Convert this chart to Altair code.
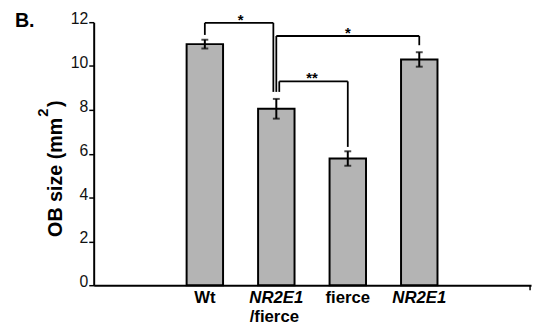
import altair as alt
import pandas as pd

# ---- data ----
categories = ["Wt", "NR2E1/fierce", "fierce", "NR2E1"]
slots = [1, 2, 3, 4]                      # slot 0 and 5 are empty
means = [11.0, 8.05, 5.78, 10.3]
errors = [0.2, 0.45, 0.33, 0.33]

label_line1 = ["Wt", "NR2E1", "fierce", "NR2E1"]
label_italic = [False, True, False, True]
label_line2 = ["", "/fierce", "", ""]

bracket_left = [1, 2, 2]
bracket_right = [2, 4, 3]
bracket_top = [11.97, 11.37, 9.30]
bracket_left_bottom = [11.42, 8.82, 8.82]
bracket_right_bottom = [8.82, 10.95, 6.31]
bracket_text = ["*", "*", "**"]

y_ticks = [0, 2, 4, 6, 8, 10, 12]
y_title_parts = ["OB size (mm", "2", ")"]

# ---- styling ----
W, H = 444, 267
FONT = "Liberation Sans"
left_leg_off = [0, 0, 3]
right_leg_off = [-3, 0, 0]

bars = pd.DataFrame({"cat": categories, "x": slots, "mean": means, "err": errors})
bars["lo"] = bars["mean"] - bars["err"]
bars["hi"] = bars["mean"] + bars["err"]

labels = pd.DataFrame({"x": slots, "l1": label_line1, "it": label_italic, "l2": label_line2})

br = pd.DataFrame({
    "xl": bracket_left, "xr": bracket_right, "top": bracket_top,
    "lb": bracket_left_bottom, "rb": bracket_right_bottom, "txt": bracket_text,
    "lo": left_leg_off, "ro": right_leg_off,
})
br["xm"] = (br["xl"] + br["xr"]) / 2

xscale = alt.Scale(domain=[-0.486, 5.495], nice=False, zero=False)
yscale = alt.Scale(domain=[0, 12], nice=False)

base = alt.Chart(bars)

bar_layer = base.mark_bar(size=37, fill="#b4b4b4", stroke="black", strokeWidth=2).encode(
    x=alt.X("x:Q", scale=xscale,
            axis=alt.Axis(title=None, labels=False, ticks=False, grid=False,
                          domainColor="black", domainWidth=2)),
    y=alt.Y("mean:Q", scale=yscale,
            axis=alt.Axis(values=y_ticks, grid=False, domainColor="black", domainWidth=2,
                          tickColor="black", tickWidth=1.5, tickSize=5,
                          labelFont=FONT, labelFontSize=16, labelColor="#111",
                          labelPadding=1, labelBaseline="alphabetic", labelOffset=1.5,
                          title=None)),
)

err_layer = base.mark_rule(color="black", strokeWidth=2).encode(
    x="x:Q", y="lo:Q", y2="hi:Q")
cap_lo = base.mark_tick(color="black", size=7, thickness=2, orient="horizontal").encode(
    x="x:Q", y="lo:Q")
cap_hi = base.mark_tick(color="black", size=7, thickness=2, orient="horizontal").encode(
    x="x:Q", y="hi:Q")

layers = [bar_layer, err_layer, cap_lo, cap_hi]

# significance brackets
for i in range(len(br)):
    one = alt.Chart(br.iloc[[i]])
    layers.append(one.mark_rule(color="black", strokeWidth=1.8,
                                xOffset=int(br["lo"][i]), x2Offset=int(br["ro"][i])).encode(
        x="xl:Q", x2="xr:Q", y="top:Q"))
    layers.append(one.mark_rule(color="black", strokeWidth=1.8, xOffset=int(br["lo"][i])).encode(
        x="xl:Q", y="lb:Q", y2="top:Q"))
    layers.append(one.mark_rule(color="black", strokeWidth=1.8, xOffset=int(br["ro"][i])).encode(
        x="xr:Q", y="rb:Q", y2="top:Q"))

layers.append(alt.Chart(br).mark_text(font=FONT, fontSize=15, fontWeight="bold",
                                      baseline="alphabetic", dy=2, color="black").encode(
    x="xm:Q", y="top:Q", text="txt:N"))

# x category labels
lab = alt.Chart(labels)
for italic in (True, False):
    layers.append(lab.transform_filter(
        "datum.it" if italic else "!datum.it").mark_text(
        font=FONT, fontSize=17, fontWeight="bold", baseline="alphabetic",
        fontStyle="italic" if italic else "normal", color="black").encode(
        x="x:Q", y=alt.value(H + 18), text="l1:N"))
layers.append(lab.mark_text(font=FONT, fontSize=17, fontWeight="bold", baseline="alphabetic",
                            color="black", dx=-2).encode(
    x="x:Q", y=alt.value(H + 37), text="l2:N"))

# small end tick on x axis
dummy = alt.Chart(bars.iloc[[0]])
layers.append(dummy.mark_rule(color="black", strokeWidth=1.5).encode(
    x=alt.value(W - 1), y=alt.value(H), y2=alt.value(H + 5)))

# y-axis title in pieces (large superscript 2)
layers.append(dummy.mark_text(text=y_title_parts[0], font=FONT, fontSize=20, fontWeight="bold",
                              angle=270, align="left", baseline="alphabetic", color="black").encode(
    x=alt.value(-32), y=alt.value(218)))
layers.append(dummy.mark_text(text=y_title_parts[1], font=FONT, fontSize=15, fontWeight="bold",
                              angle=270, align="left", baseline="alphabetic", color="black").encode(
    x=alt.value(-46), y=alt.value(96)))
layers.append(dummy.mark_text(text=y_title_parts[2], font=FONT, fontSize=20, fontWeight="bold",
                              angle=270, align="left", baseline="alphabetic", color="black").encode(
    x=alt.value(-32), y=alt.value(86)))

# panel letter
layers.append(dummy.mark_text(
    text="B.", font=FONT, fontSize=20, fontWeight="bold", align="left",
    baseline="alphabetic", color="black").encode(
    x=alt.value(-80), y=alt.value(5)))

chart = alt.layer(*layers).properties(
    width=W, height=H,
    padding={"left": 87, "top": 12, "right": 3, "bottom": 39},
    autosize=alt.AutoSizeParams(type="none"),
    background="white",
).configure_view(stroke=None)

chart.save("out.html", embed_options={"renderer": "svg", "actions": False})
